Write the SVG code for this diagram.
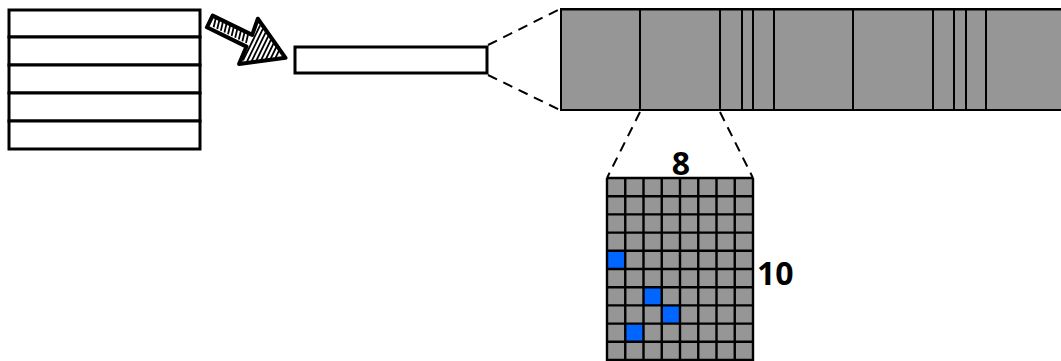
<svg xmlns="http://www.w3.org/2000/svg" width="1061" height="361" viewBox="0 0 1061 361">
  <style>
    .box { fill: #ffffff; stroke: #000000; stroke-width: 3; }
    .seg { fill: #969696; stroke: #000000; stroke-width: 2; }
    .div { stroke: #000000; stroke-width: 2; fill: none; }
    .grid { stroke: #000000; stroke-width: 2.4; fill: none; }
    .dash { stroke: #000000; stroke-width: 2; stroke-dasharray: 10 7; fill: none; }
    .hit { fill: #0066ff; }
    .lbl { font-family: "Open Sans", "Liberation Sans", sans-serif; font-weight: bold; font-size: 32px; fill: #000000; }
    .hatch { stroke: #000000; stroke-width: 1.8; fill: none; }
  </style>

  <!-- stacked records -->
  <g id="stack">
    <rect class="box" x="9" y="10" width="191" height="27"/>
    <rect class="box" x="9" y="37" width="191" height="28"/>
    <rect class="box" x="9" y="65" width="191" height="28"/>
    <rect class="box" x="9" y="93" width="191" height="28"/>
    <rect class="box" x="9" y="121" width="191" height="28"/>
  </g>

  <!-- hand-drawn arrow -->
  <g id="arrow" transform="translate(210,21) rotate(26)">
    <polygon points="0,-6 44,-6 42,-23 84,0 45,26 44,7 0,7" fill="#ffffff" stroke="#000000" stroke-width="4" stroke-linejoin="round"/>
    <path class="hatch" d="M4,-5 L6,4 M8,-5 L10,4 M12,-5 L14,4 M16,-5 L18,4 M20,-5 L22,4 M24,-5 L26,4 M28,-5 L30,4 M32,-5 L34,4 M36,-5 L38,4 M40,-5 L42,4"/>
    <path class="hatch" d="M47,-18 L47,21 M51,-16 L51,20 M55,-14 L55,18 M59,-12 L59,16 M63,-10 L63,13 M67,-8 L67,11 M71,-6 L71,8 M75,-4 L75,5"/>
  </g>

  <!-- single record -->
  <g id="record">
    <rect class="box" x="295" y="47" width="192" height="26"/>
  </g>

  <!-- expanded record with fields -->
  <g id="fields">
    <rect class="seg" x="561" y="9" width="510" height="101"/>
    <path class="div" d="M561,9.5 H1061"/>
    <path class="div" d="M640,9 V110 M720,9 V110 M742,9 V110 M753,9 V110 M774,9 V110 M853,9 V110 M933,9 V110 M954,9 V110 M966,9 V110 M986,9 V110"/>
  </g>

  <!-- bit grid of one field -->
  <g id="bits">
    <rect x="607" y="178" width="146" height="182" fill="#969696"/>
    <rect class="hit" x="607" y="250.8" width="18.25" height="18.2"/>
    <rect class="hit" x="643.5" y="287.2" width="18.25" height="18.2"/>
    <rect class="hit" x="661.75" y="305.4" width="18.25" height="18.2"/>
    <rect class="hit" x="625.25" y="323.6" width="18.25" height="18.2"/>
    <path class="grid" d="M607,178 V361 M625.25,178 V361 M643.5,178 V361 M661.75,178 V361 M680,178 V361 M698.25,178 V361 M716.5,178 V361 M734.75,178 V361 M753,178 V361"/>
    <path class="grid" d="M607,178 H753 M607,196.2 H753 M607,214.4 H753 M607,232.6 H753 M607,250.8 H753 M607,269 H753 M607,287.2 H753 M607,305.4 H753 M607,323.6 H753 M607,341.8 H753 M607,360 H753"/>
    <text class="lbl" x="681" y="175" text-anchor="middle">8</text>
    <text class="lbl" x="757" y="285">10</text>
  </g>

  <!-- zoom connectors -->
  <g id="connectors">
    <path class="dash" d="M488,45 L560,9"/>
    <path class="dash" d="M488,75 L560,110"/>
    <path class="dash" d="M640,112 L607,178"/>
    <path class="dash" d="M720,112 L753,178"/>
  </g>
</svg>
